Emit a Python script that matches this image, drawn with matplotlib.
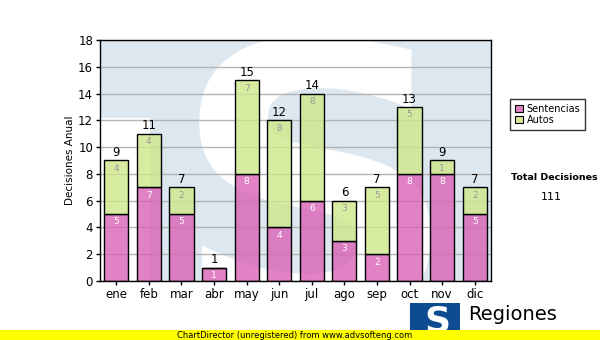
import numpy as np
import matplotlib.pyplot as plt
from matplotlib.patches import Rectangle, Patch, PathPatch
from matplotlib.textpath import TextPath
from matplotlib.font_manager import FontProperties
from matplotlib.transforms import Affine2D

# datos mensuales de decisiones
meses = ['ene', 'feb', 'mar', 'abr', 'may', 'jun', 'jul', 'ago', 'sep', 'oct', 'nov', 'dic']
sentencias = [5, 7, 5, 1, 8, 4, 6, 3, 2, 8, 8, 5]
autos = [4, 4, 2, 0, 7, 8, 8, 3, 5, 5, 1, 2]
y_ticks = [0, 2, 4, 6, 8, 10, 12, 14, 16, 18]

rosa = (0.85, 0.39, 0.71, 0.8)
verde = (0.81, 0.91, 0.54, 0.8)
azul_logo = '#dde7f0'

fig = plt.figure(figsize=(6, 3.4), dpi=100)
ax_w, ax_h = 391, 241
ax = fig.add_axes([100/600, 1 - 281/340, ax_w/600, ax_h/340])
ax.set_facecolor(azul_logo)

x = np.arange(len(meses))
total = np.array(sentencias) + np.array(autos)

# marca de agua: logo claro detrás de las barras
ax.add_patch(Rectangle((0, 0), 50/ax_w, 1 - 78/ax_h, transform=ax.transAxes,
                       facecolor='white', edgecolor='none', zorder=0))
ruta = TextPath((0, 0), 'S', size=100, prop=FontProperties(family='DejaVu Sans', weight='bold'))
ext = ruta.get_extents()
alto = 290
esc = alto / ext.height
tr = (Affine2D().translate(-ext.x0 - ext.width / 2, -ext.y0)
      .scale(esc * 1.05, esc).translate(215, -45)
      .scale(1 / ax_w, 1 / ax_h) + ax.transAxes)
marca = PathPatch(ruta, facecolor='white', edgecolor='none', transform=tr, zorder=0)
ax.add_patch(marca)
marca.set_clip_path(ax.patch)

ax.set_axisbelow(True)
ax.yaxis.grid(True, color='#b4b4b4', lw=1)

ancho = 0.74
ax.bar(x, sentencias, ancho, color=rosa, edgecolor='black', lw=1, zorder=2)
ax.bar(x, autos, ancho, bottom=sentencias, color=verde, edgecolor='black', lw=1, zorder=2)

for i in range(len(meses)):
    ax.text(x[i], total[i] + 0.1, str(total[i]), ha='center', va='bottom', fontsize=8.5, zorder=3)
    if sentencias[i] > 0:
        ax.text(x[i], sentencias[i] - 0.25, str(sentencias[i]), ha='center', va='top',
                fontsize=6.5, color='white', zorder=3)
    if autos[i] > 0:
        ax.text(x[i], total[i] - 0.25, str(autos[i]), ha='center', va='top',
                fontsize=6.5, color='#999999', zorder=3)

ax.set_xlim(-0.5, len(meses) - 0.5)
ax.set_ylim(0, 18)
ax.set_yticks(y_ticks)
ax.set_xticks(x)
ax.set_xticklabels(meses)
ax.tick_params(axis='both', labelsize=8.5, length=3, width=1, pad=2)
for s in ax.spines.values():
    s.set_linewidth(1)
ax.set_ylabel('Decisiones Anual', fontsize=7.5, labelpad=2)

# leyenda
handles = [Patch(facecolor='#dd80c0', edgecolor='black', lw=0.8, label='Sentencias'),
           Patch(facecolor='#d4ea96', edgecolor='black', lw=0.8, label='Autos')]
leg = fig.legend(handles=handles, loc='upper left', bbox_to_anchor=(510/600, 1 - 99/340),
                 fontsize=7, frameon=True, fancybox=False, handlelength=0.8,
                 handleheight=0.8, handletextpad=0.4, borderpad=0.5, labelspacing=0.1,
                 borderaxespad=0)
leg.get_frame().set_edgecolor('black')
leg.get_frame().set_linewidth(1)

fig.text(554/600, 1 - 178/340, 'Total Decisiones', fontsize=6.8, fontweight='bold',
         ha='center', va='center')
fig.text(551/600, 1 - 197/340, str(total.sum()), fontsize=8, ha='center', va='center')

# logo inferior
fig.patches.append(Rectangle((410/600, 0), 50/600, 37/340, transform=fig.transFigure,
                             facecolor='#0e4c92', edgecolor='none', zorder=1))
fig.text(437/600, 1 - 322/340, 'S', fontsize=26, fontweight='bold', color='white',
         ha='center', va='center', zorder=2)
fig.text(468/600, 1 - 315/340, 'Regiones', fontsize=14, ha='left', va='center', zorder=2)

# franja de aviso
fig.patches.append(Rectangle((0, 0), 1, 10/340, transform=fig.transFigure,
                             facecolor='#ffff00', edgecolor='none', zorder=5))
fig.text(295/600, 5/340, 'ChartDirector (unregistered) from www.advsofteng.com',
         fontsize=6, ha='center', va='center', zorder=6)

fig.savefig('out.png', dpi=100)
